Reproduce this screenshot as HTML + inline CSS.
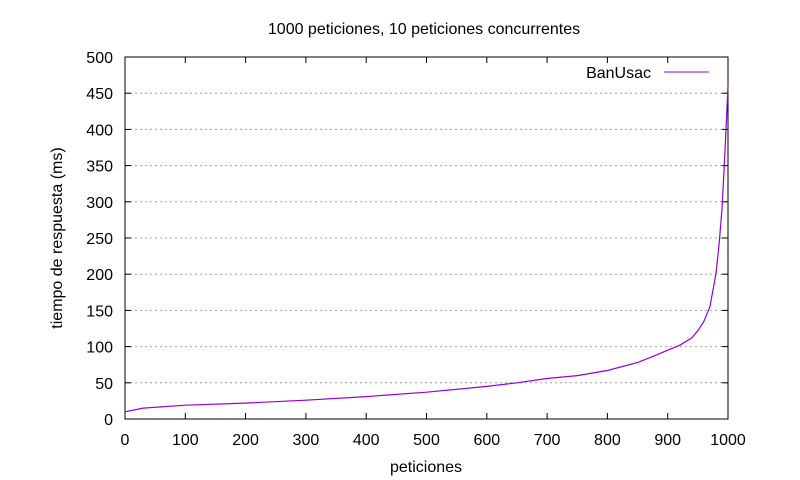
<!DOCTYPE html>
<html><head><meta charset="utf-8"><style>
body{margin:0;background:#fff;}
svg{display:block;font-family:"Liberation Sans",sans-serif;font-size:16px;}
</style></head><body>
<svg id="chart" width="800" height="480">
<rect width="800" height="480" fill="#fff"/>
<text x="424" y="34" text-anchor="middle">1000 peticiones, 10 peticiones concurrentes</text>
<text x="426" y="472" text-anchor="middle">peticiones</text>
<text transform="translate(62,238) rotate(-90)" text-anchor="middle">tiempo de respuesta (ms)</text>
<g id="grid"></g><g id="axes"></g><g id="series"></g>
<text x="651" y="78" text-anchor="end">BanUsac</text>
<line x1="664" y1="72" x2="709" y2="72" stroke="#9400d3" stroke-width="1"/>
</svg>
<script>
const xTicks=[0,100,200,300,400,500,600,700,800,900,1000];
const yTicks=[0,50,100,150,200,250,300,350,400,450,500];
const reqX=[0,30,100,200,300,400,500,600,650,700,750,800,850,880,900,920,940,950,960,970,980,985,990,995,1000];
const respY=[10,15,19,22,26,31,37,45,50,56,60,67,78,88,95,102,112,122,135,155,200,240,290,370,460];
const L=125,R=728,T=57,B=419;
const sx=v=>L+(R-L)*v/1000, sy=v=>B-(B-T)*v/500;
const NS="http://www.w3.org/2000/svg";
function mk(tag,attrs,parent){const e=document.createElementNS(NS,tag);for(const k in attrs)e.setAttribute(k,attrs[k]);parent.appendChild(e);return e;}
const grid=document.getElementById('grid'),axes=document.getElementById('axes'),series=document.getElementById('series');
yTicks.forEach(v=>{const y=sy(v);
 if(v>0&&v<500){const g=mk('line',{x1:L,x2:R,y1:y,y2:y,stroke:'#a0a0a0','stroke-dasharray':'2,3'},grid);
 
 }
 const t=mk('line',{x1:L,x2:L+6,y1:y,y2:y,stroke:'#000'},axes);
 
 
 mk('line',{x1:R,x2:R-6,y1:y,y2:y,stroke:'#000'},axes);
 const l=mk('text',{x:L-12,y:y+6,'text-anchor':'end'},axes);l.textContent=v;
 
 });
xTicks.forEach(v=>{const x=sx(v);
 const t=mk('line',{x1:x,x2:x,y1:B,y2:B-6,stroke:'#000'},axes);
 
 
 mk('line',{x1:x,x2:x,y1:T,y2:T+6,stroke:'#000'},axes);
 const l=mk('text',{x:x,y:B+26,'text-anchor':'middle'},axes);l.textContent=v;
 
 });
const fr=mk('rect',{x:L,y:T,width:R-L,height:B-T,fill:'none',stroke:'#000'},axes);


const pts=reqX.map((v,i)=>sx(v).toFixed(1)+','+sy(respY[i]).toFixed(1)).join(' ');
const pl=mk('polyline',{points:pts,fill:'none',stroke:'#9400d3','stroke-width':1.2},series);


</script>
</body></html>
